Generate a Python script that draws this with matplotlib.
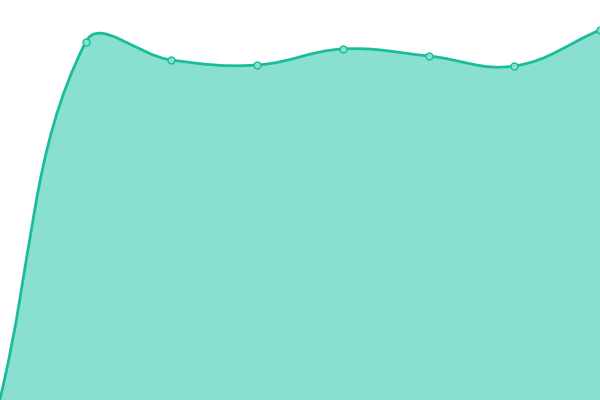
import numpy as np
import matplotlib
matplotlib.use("Agg")
import matplotlib.pyplot as plt
from matplotlib.path import Path
from matplotlib.patches import PathPatch

# data (y axis 0..400, x = category index)
categories = [0, 1, 2, 3, 4, 5, 6, 7]
values = [1, 358, 340, 335, 351, 344, 334, 370]

LINE = "#1abc9c"
FILL = "#89e0d0"
TENSION = 0.4


def spline_path(pts, t=TENSION, xmax=600, ymax=400):
    # chart.js style splineCurve, in pixel space
    n = len(pts)
    cps = []
    for i in range(n):
        p0 = pts[i - 1] if i > 0 else pts[i]
        p1 = pts[i]
        p2 = pts[i + 1] if i < n - 1 else pts[i]
        d01 = np.hypot(*(p1 - p0))
        d12 = np.hypot(*(p2 - p1))
        s01 = d01 / (d01 + d12) if d01 + d12 else 0
        s12 = d12 / (d01 + d12) if d01 + d12 else 0
        prev = p1 - t * s01 * (p2 - p0)
        nxt = p1 + t * s12 * (p2 - p0)
        prev = np.clip(prev, [0, 0], [xmax, ymax])
        nxt = np.clip(nxt, [0, 0], [xmax, ymax])
        cps.append((prev, nxt))
    verts = [tuple(pts[0])]
    codes = [Path.MOVETO]
    for i in range(n - 1):
        verts += [tuple(cps[i][1]), tuple(cps[i + 1][0]), tuple(pts[i + 1])]
        codes += [Path.CURVE4] * 3
    return verts, codes


fig = plt.figure(figsize=(6, 4), dpi=100)
ax = fig.add_axes([0, 0, 1, 1])
ax.set_xlim(0, 7)
ax.set_ylim(0, 400)
ax.axis("off")

disp = ax.transData.transform(np.column_stack([categories, values]))
verts, codes = spline_path(disp)
inv = ax.transData.inverted()
verts = [tuple(inv.transform(v)) for v in verts]

area_verts = verts + [(categories[-1], 0), (categories[0], 0), verts[0]]
area_codes = codes + [Path.LINETO, Path.LINETO, Path.CLOSEPOLY]
ax.add_patch(PathPatch(Path(area_verts, area_codes), facecolor=FILL,
                       edgecolor="none"))
ax.add_patch(PathPatch(Path(verts, codes), facecolor="none", edgecolor=LINE,
                       linewidth=2.0, capstyle="round", joinstyle="round"))

ax.plot(categories[1:], values[1:], "o", ms=5, mfc=FILL, mec=LINE, mew=1.0,
        zorder=5)

fig.savefig("out.png", dpi=100)
